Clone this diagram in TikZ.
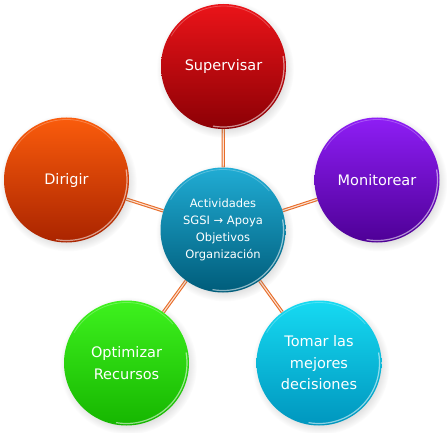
\documentclass[tikz,border=0pt]{standalone}
\usepackage{fontspec}
\setmainfont{DejaVu Sans}
\usetikzlibrary{shadows,backgrounds}
\definecolor{linkor}{RGB}{232,108,40}
\definecolor{redT}{RGB}{235,20,25}\definecolor{redB}{RGB}{140,0,5}
\definecolor{oraT}{RGB}{250,92,12}\definecolor{oraB}{RGB}{170,36,0}
\definecolor{purT}{RGB}{142,30,245}\definecolor{purB}{RGB}{78,0,150}
\definecolor{tealT}{RGB}{32,172,212}\definecolor{tealB}{RGB}{0,92,122}
\definecolor{grnT}{RGB}{62,242,30}\definecolor{grnB}{RGB}{22,182,0}
\definecolor{cyaT}{RGB}{22,218,242}\definecolor{cyaB}{RGB}{0,150,190}
\begin{document}
\begin{tikzpicture}[x=1pt,y=1pt,
  ball/.style={circle, minimum size=125pt, inner sep=0pt, text=white, align=center,
    font=\fontsize{14.5}{21.5}\selectfont,
    circular drop shadow={shadow xshift=1.5pt, shadow yshift=-2.5pt, opacity=0.25}},
  centerball/.style={ball, font=\fontsize{11.5}{17}\selectfont},
  link/.style={draw=linkor, line width=1.1pt, double=white!80!linkor, double distance=1.1pt},
  rim/.style={white, opacity=0.55, line width=1.2pt}]
\useasboundingbox (0,0) rectangle (447,432);
\node[ball, top color=redT, bottom color=redB] (sup) at (223.5,365.5) {Supervisar};
\node[ball, top color=oraT, bottom color=oraB] (dir) at (66.5,252) {Dirigir};
\node[ball, top color=purT, bottom color=purB] (mon) at (377,252) {Monitorear};
\node[centerball, top color=tealT, bottom color=tealB] (cen) at (223,202) {Actividades\\SGSI → Apoya\\Objetivos\\Organización};
\node[ball, top color=grnT, bottom color=grnB] (opt) at (126.5,69) {Optimizar\\Recursos};
\node[ball, top color=cyaT, bottom color=cyaB] (tom) at (319,69) {Tomar las\\mejores\\decisiones};
\foreach \n in {sup,dir,mon,cen,opt,tom}{
  \draw[rim] (\n.center) ++(10:60.5) arc[start angle=10, end angle=-100, radius=60.5];
  \draw[white, opacity=0.25, line width=0.8pt] (\n.center) ++(150:60.5) arc[start angle=150, end angle=40, radius=60.5];
}
\begin{scope}[on background layer]
\draw[link] (cen) -- (sup);
\draw[link] (cen) -- (dir);
\draw[link] (cen) -- (mon);
\draw[link] (cen) -- (opt);
\draw[link] (cen) -- (tom);
\end{scope}
\end{tikzpicture}
\end{document}
